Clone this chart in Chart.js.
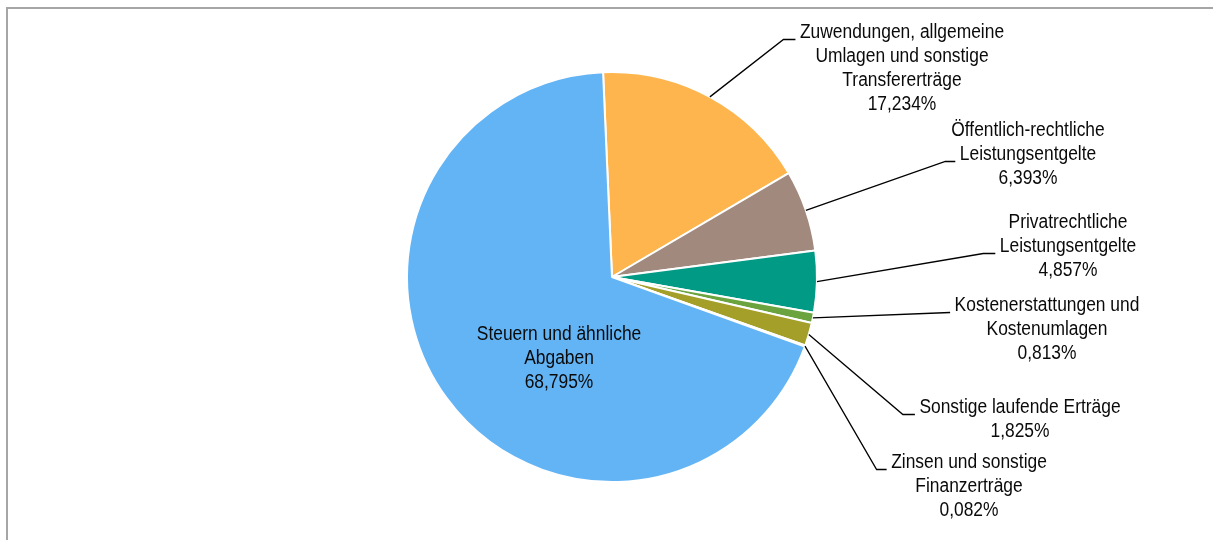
<!DOCTYPE html>
<html>
<head>
<meta charset="utf-8">
<script src="https://cdn.jsdelivr.net/npm/chart.js@4.4.1/dist/chart.umd.min.js"></script>
<style>
html, body { margin: 0; padding: 0; background: #fff; }
#wrap { width: 1213px; height: 540px; position: relative; }
</style>
</head>
<body>
<div id="wrap"><canvas id="myChart"></canvas></div>
<script>
// Kategorien (Zeilen der Beschriftung) und Anteile in Prozent
var kategorien = [
    ['Zuwendungen, allgemeine', 'Umlagen und sonstige', 'Transfererträge'],
    ['Öffentlich-rechtliche', 'Leistungsentgelte'],
    ['Privatrechtliche', 'Leistungsentgelte'],
    ['Kostenerstattungen und', 'Kostenumlagen'],
    ['Sonstige laufende Erträge'],
    ['Zinsen und sonstige', 'Finanzerträge'],
    ['Steuern und ähnliche', 'Abgaben']
];
var anteile = [17.234, 6.393, 4.857, 0.813, 1.825, 0.082, 68.795];

var farben = ['#FFB54D', '#A1897D', '#009A85', '#6BA43F', '#A39F28', '#7B5E86', '#63B4F5'];

// Lage der Beschriftungen relativ zum Mittelpunkt (erste Zeile), Zeile für die Führungslinie
var beschriftung = [
    {dx: 290, dy: -245, zeile: 0, knick: 12},
    {dx: 416, dy: -147, zeile: 1, knick: 10},
    {dx: 456, dy: -55, zeile: 1, knick: 12},
    {dx: 435, dy: 28, zeile: 0, knick: 0},
    {dx: 408, dy: 130, zeile: 0, knick: 12},
    {dx: 357, dy: 185, zeile: 0, knick: 10},
    {dx: -53, dy: 57, innen: true}
];

function prozent(v) {
    return v.toFixed(3).replace('.', ',') + '%';
}

// Rahmen oben und links
var rahmenPlugin = {
    id: 'rahmen',
    beforeDraw: function(chart) {
        var ctx = chart.ctx;
        ctx.save();
        ctx.strokeStyle = '#A6A6A6';
        ctx.lineWidth = 2;
        ctx.beginPath();
        ctx.moveTo(7, 540);
        ctx.lineTo(7, 8);
        ctx.lineTo(1213, 8);
        ctx.stroke();
        ctx.restore();
    }
};

// Beschriftungen mit Führungslinien
var labelPlugin = {
    id: 'beschriftung',
    afterDatasetsDraw: function(chart) {
        var ctx = chart.ctx;
        var meta = chart.getDatasetMeta(0);
        var sx = 0.87, zeilenHoehe = 24;
        ctx.save();
        ctx.font = '20px "Liberation Sans", Arial, sans-serif';
        ctx.fillStyle = '#0A0A0A';
        ctx.textAlign = 'center';
        ctx.textBaseline = 'middle';
        meta.data.forEach(function(arc, i) {
            var b = beschriftung[i];
            var zeilen = kategorien[i].concat([prozent(anteile[i])]);
            var cx = arc.x + b.dx;
            var y0 = arc.y + b.dy;
            zeilen.forEach(function(z, k) {
                ctx.save();
                ctx.translate(cx, y0 + k * zeilenHoehe);
                ctx.scale(sx, 1);
                ctx.fillText(z, 0, 0);
                ctx.restore();
            });
            if (b.innen) return;
            var mitte = (arc.startAngle + arc.endAngle) / 2;
            var px = arc.x + arc.outerRadius * Math.cos(mitte);
            var py = arc.y + arc.outerRadius * Math.sin(mitte);
            var w = ctx.measureText(zeilen[b.zeile]).width * sx;
            var ex = cx - w / 2 - 4.5;
            var ey = y0 + b.zeile * zeilenHoehe + 7.5;
            ctx.strokeStyle = '#000';
            ctx.lineWidth = 1.3;
            ctx.beginPath();
            ctx.moveTo(px, py);
            ctx.lineTo(ex - b.knick, ey);
            ctx.lineTo(ex, ey);
            ctx.stroke();
        });
        ctx.restore();
    }
};

var ctx = document.getElementById('myChart').getContext('2d');
var myChart = new Chart(ctx, {
    type: 'pie',
    data: {
        labels: kategorien.map(function(k) { return k.join(' '); }),
        datasets: [{
            data: anteile,
            backgroundColor: farben,
            borderColor: '#fff',
            borderWidth: 2,
            hoverOffset: 0
        }]
    },
    options: {
        responsive: true,
        maintainAspectRatio: false,
        animation: false,
        events: [],
        rotation: -2.5,
        radius: 205,
        layout: { padding: { left: 11, right: 0, top: 14, bottom: 0 } },
        plugins: {
            legend: { display: false },
            tooltip: { enabled: false }
        }
    },
    plugins: [rahmenPlugin, labelPlugin]
});
</script>
</body>
</html>
